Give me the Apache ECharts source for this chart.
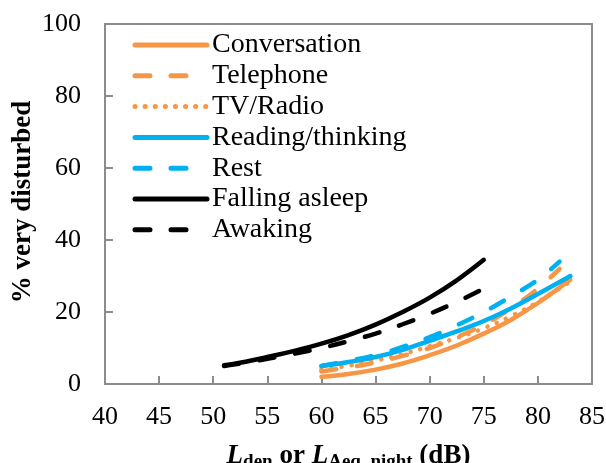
<!DOCTYPE html>
<html>
<head>
<meta charset="utf-8">
<script src="https://cdn.jsdelivr.net/npm/echarts@6/dist/echarts.min.js"></script>
<style>
  html, body { margin: 0; padding: 0; background: #fff; }
  #chart { width: 606px; height: 463px; }
</style>
</head>
<body>
<div id="chart"></div>
<script>
// Noise level (dB) and % very disturbed for each activity
const conversation = [[60, 2], [62.5, 2.8], [65, 4], [67.5, 5.7], [70, 8], [72.5, 10.7], [75, 14], [77.5, 17.8], [80, 22.5], [83, 29]];
const telephone = [[60, 3.5], [62.5, 4.6], [65, 6], [67.5, 7.8], [70, 10], [72.5, 13], [75, 16.5], [77.5, 21], [80, 26.5], [82, 32]];
const tvRadio = [[60, 4], [62.5, 5.1], [65, 6.5], [67.5, 8.3], [70, 10.5], [72.5, 12.8], [75, 15.5], [77.5, 18.8], [80, 22.8], [83, 28.5]];
const reading = [[60, 5], [62.5, 6.1], [65, 7.5], [67.5, 9.5], [70, 12], [72.5, 14.6], [75, 17.5], [77.5, 21], [80, 25], [83, 30]];
const rest = [[60, 5], [62.5, 6.4], [65, 8], [67.5, 10.3], [70, 13], [72.5, 16.3], [75, 20], [77.5, 24.3], [80, 29], [82, 34]];
const fallingAsleep = [[51, 5.2], [53, 6.2], [55, 7.5], [57.5, 9.2], [60, 11.2], [62.5, 13.6], [65, 16.5], [67.5, 20], [70, 24], [72.5, 28.8], [75, 34.5]];
const awaking = [[51, 5], [53, 5.9], [55, 7], [57.5, 8.4], [60, 10], [62.5, 11.9], [65, 14], [67.5, 16.6], [70, 19.5], [72.5, 22.8], [75, 26.5]];

const xTicks = { min: 40, max: 85, step: 5 };
const yTicks = { min: 0, max: 100, step: 20 };
const yTitle = '% very disturbed';

const ORANGE = '#F79646';
const BLUE = '#00B0F0';
const BLACK = '#000000';
const AXIS_GREY = '#8c8c8c';
const serif = '"Liberation Serif", "Times New Roman", serif';

const SOLID = 'solid';
const DASH = [15, 21];
const DOT = [0.1, 10];
const LINE_W = 4.5;

const seriesDefs = [
  { name: 'Conversation', data: conversation, color: ORANGE, dash: SOLID },
  { name: 'Telephone', data: telephone, color: ORANGE, dash: DASH },
  { name: 'TV/Radio', data: tvRadio, color: ORANGE, dash: DOT },
  { name: 'Reading/thinking', data: reading, color: BLUE, dash: SOLID },
  { name: 'Rest', data: rest, color: BLUE, dash: DASH },
  { name: 'Falling asleep', data: fallingAsleep, color: BLACK, dash: SOLID },
  { name: 'Awaking', data: awaking, color: BLACK, dash: DASH }
];

const series = seriesDefs.map(function (d) {
  return {
    name: d.name,
    type: 'line',
    data: d.data,
    smooth: 0.4,
    symbol: 'none',
    lineStyle: { color: d.color, width: LINE_W, type: d.dash, cap: 'round' },
    itemStyle: { color: d.color },
    z: 3
  };
});

// Key box inside the plot: a line sample and a label per series
const KEY_LEFT = 135, KEY_TOP = 45, KEY_ROW = 30.8, KEY_SAMPLE = 72;
const overlay = [];
seriesDefs.forEach(function (d, i) {
  const y = KEY_TOP + i * KEY_ROW;
  overlay.push({
    type: 'line',
    shape: { x1: KEY_LEFT, y1: y, x2: KEY_LEFT + KEY_SAMPLE, y2: y },
    style: {
      stroke: d.color, lineWidth: 5, lineCap: 'round',
      lineDash: d.dash === SOLID ? null : d.dash
    },
    z: 10
  });
  overlay.push({
    type: 'text',
    x: KEY_LEFT + KEY_SAMPLE + 5,
    y: y,
    style: {
      text: d.name, fill: '#000',
      font: '28px ' + serif,
      verticalAlign: 'middle', align: 'left'
    },
    z: 10
  });
});

// Vertical axis title, rotated and centred on the plot height
overlay.push({
  type: 'text',
  x: 23,
  y: 202,
  rotation: Math.PI / 2,
  style: {
    text: yTitle, fill: '#000',
    font: 'bold 27px ' + serif,
    align: 'center', verticalAlign: 'middle'
  },
  z: 10
});

const chart = echarts.init(document.getElementById('chart'), null, { renderer: 'canvas' });
chart.setOption({
  animation: false,
  backgroundColor: '#ffffff',
  grid: {
    left: 105, right: 14, top: 24, bottom: 79,
    containLabel: false,
    outerBoundsMode: 'none',
    show: true, borderColor: AXIS_GREY, borderWidth: 2, backgroundColor: 'transparent'
  },
  graphic: overlay,
  xAxis: {
    type: 'value',
    min: xTicks.min, max: xTicks.max, interval: xTicks.step,
    axisLine: { show: true, lineStyle: { color: AXIS_GREY, width: 2 } },
    axisTick: { show: true, inside: true, length: 8, lineStyle: { color: AXIS_GREY, width: 2 } },
    splitLine: { show: false },
    axisLabel: { fontFamily: serif, fontSize: 26, color: '#000', margin: 20 },
    name: '{L|L}{sub|den}{t| or }{L|L}{sub|Aeq, night}{t| (dB)}',
    nameLocation: 'middle',
    nameGap: 57,
    nameTextStyle: {
      rich: {
        L: { fontFamily: serif, fontSize: 27, fontWeight: 'bold', fontStyle: 'italic', color: '#000' },
        t: { fontFamily: serif, fontSize: 27, fontWeight: 'bold', color: '#000' },
        sub: { fontFamily: serif, fontSize: 19, fontWeight: 'bold', color: '#000', padding: [12, 0, 0, 0] }
      }
    }
  },
  yAxis: {
    type: 'value',
    min: yTicks.min, max: yTicks.max, interval: yTicks.step,
    axisLine: { show: true, lineStyle: { color: AXIS_GREY, width: 2 } },
    axisTick: { show: true, inside: true, length: 8, lineStyle: { color: AXIS_GREY, width: 2 } },
    splitLine: { show: false },
    axisLabel: { fontFamily: serif, fontSize: 26, color: '#000', margin: 24 }
  },
  series: series
});
</script>
</body>
</html>
